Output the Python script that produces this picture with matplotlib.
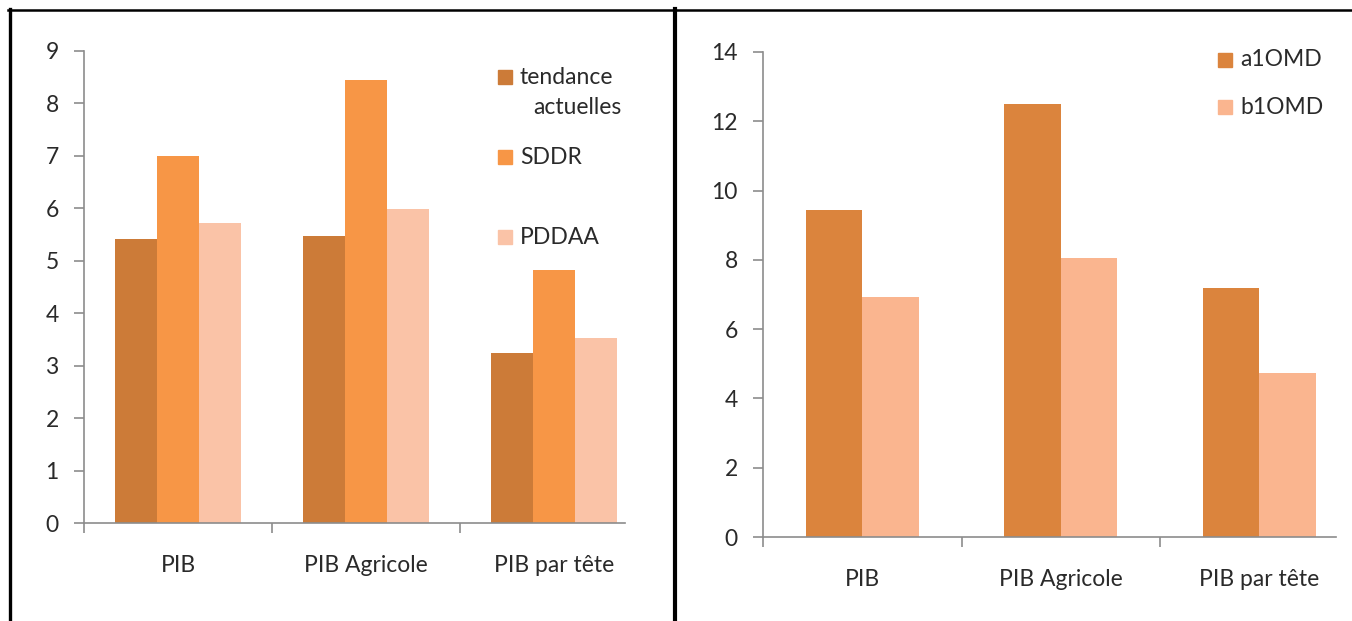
import numpy as np
import matplotlib
matplotlib.use("Agg")
import matplotlib.pyplot as plt
from matplotlib.patches import Rectangle
from matplotlib.lines import Line2D

plt.rcParams['font.family'] = ['Lato', 'DejaVu Sans']

# Data
categories = ['PIB', 'PIB Agricole', 'PIB par tête']

left_series = ['tendance\nactuelles', 'SDDR', 'PDDAA']
tendance = [5.42, 5.47, 3.23]
sddr = [7.0, 8.45, 4.82]
pddaa = [5.72, 5.98, 3.52]
left_colors = ['#CC7B38', '#F79646', '#FAC3A7']

right_series = ['a1OMD', 'b1OMD']
a1omd = [9.43, 12.5, 7.2]
b1omd = [6.94, 8.04, 4.72]
right_colors = ['#DB843D', '#FAB58F']

W, H = 1352, 621
fig = plt.figure(figsize=(W / 100, H / 100), dpi=100)
TXT = '#2A2A2A'
AX = '#8C8C8C'
FS = 16.5


def px_axes(x0, x1, ytop, ybot):
    # axes placed from pixel coordinates (y measured from the top)
    return fig.add_axes([x0 / W, (H - ybot) / H, (x1 - x0) / W, (ybot - ytop) / H])


def style_axes(ax, ymax, ystep, right_bound):
    ax.set_xlim(-0.5, 2.5)
    ax.set_ylim(0, ymax)
    for s in ['top', 'right']:
        ax.spines[s].set_visible(False)
    for s in ['left', 'bottom']:
        ax.spines[s].set_color(AX)
        ax.spines[s].set_linewidth(1.2)
    ax.spines['bottom'].set_bounds(-0.5, right_bound)
    ax.set_yticks(np.arange(0, ymax + 0.1, ystep))
    ax.set_yticklabels([str(int(v)) for v in np.arange(0, ymax + 0.1, ystep)])
    ax.tick_params(axis='y', direction='out', length=7.2, width=1.2, color=AX,
                   pad=11, labelsize=FS, labelcolor=TXT)
    ax.set_xticks(range(len(categories)))
    ax.set_xticklabels(categories)
    ax.tick_params(axis='x', which='major', length=0, pad=23, labelsize=FS,
                   labelcolor=TXT)
    ax.set_xticks([-0.5, 0.5, 1.5], minor=True)
    ax.tick_params(axis='x', which='minor', direction='out', length=7.2,
                   width=1.2, color=AX)


def legend_entry(x, y, color, label, **kw):
    # square marker + label, positioned in pixels
    s = 14
    fig.patches.append(Rectangle(((x) / W, (H - y - s / 2) / H), s / W, s / H,
                                 transform=fig.transFigure, color=color))
    fig.text((x + 22) / W, (H - y) / H, label, fontsize=FS, color=TXT,
             va='center', ha='left', **kw)


# Left chart
ax1 = px_axes(84, 648, 50.7, 523)
style_axes(ax1, 9, 1, 2.378)
x = np.arange(len(categories))
w = 0.224
for i, (vals, c) in enumerate(zip([tendance, sddr, pddaa], left_colors)):
    ax1.bar(x + (i - 1) * w, vals, width=w, color=c, zorder=2)

legend_entry(498, 77, left_colors[0], 'tendance')
fig.text(621 / W, (H - 108) / H, 'actuelles', fontsize=FS, color=TXT,
         va='center', ha='right')
legend_entry(498, 157, left_colors[1], left_series[1])
legend_entry(498, 237, left_colors[2], left_series[2])

# Right chart
ax2 = px_axes(763, 1358.5, 52, 537)
style_axes(ax2, 14, 2, 2.387)
w2 = 0.285
for i, (vals, c) in enumerate(zip([a1omd, b1omd], right_colors)):
    ax2.bar(x + (i - 0.5) * w2, vals, width=w2, color=c, zorder=2)

legend_entry(1218, 60, right_colors[0], right_series[0])
legend_entry(1218, 107, right_colors[1], right_series[1])

# Table-like frame around the two charts
def frame_line(xs, ys, lw):
    fig.lines.append(Line2D([v / W for v in xs], [(H - v) / H for v in ys],
                            transform=fig.transFigure, color='black', lw=lw))

frame_line([8, W], [10, 10], 1.8)
frame_line([9.5, 9.5], [9, H], 2.4)
frame_line([675, 675], [9, H], 3.0)

fig.savefig('out.png', dpi=100, facecolor='white')
